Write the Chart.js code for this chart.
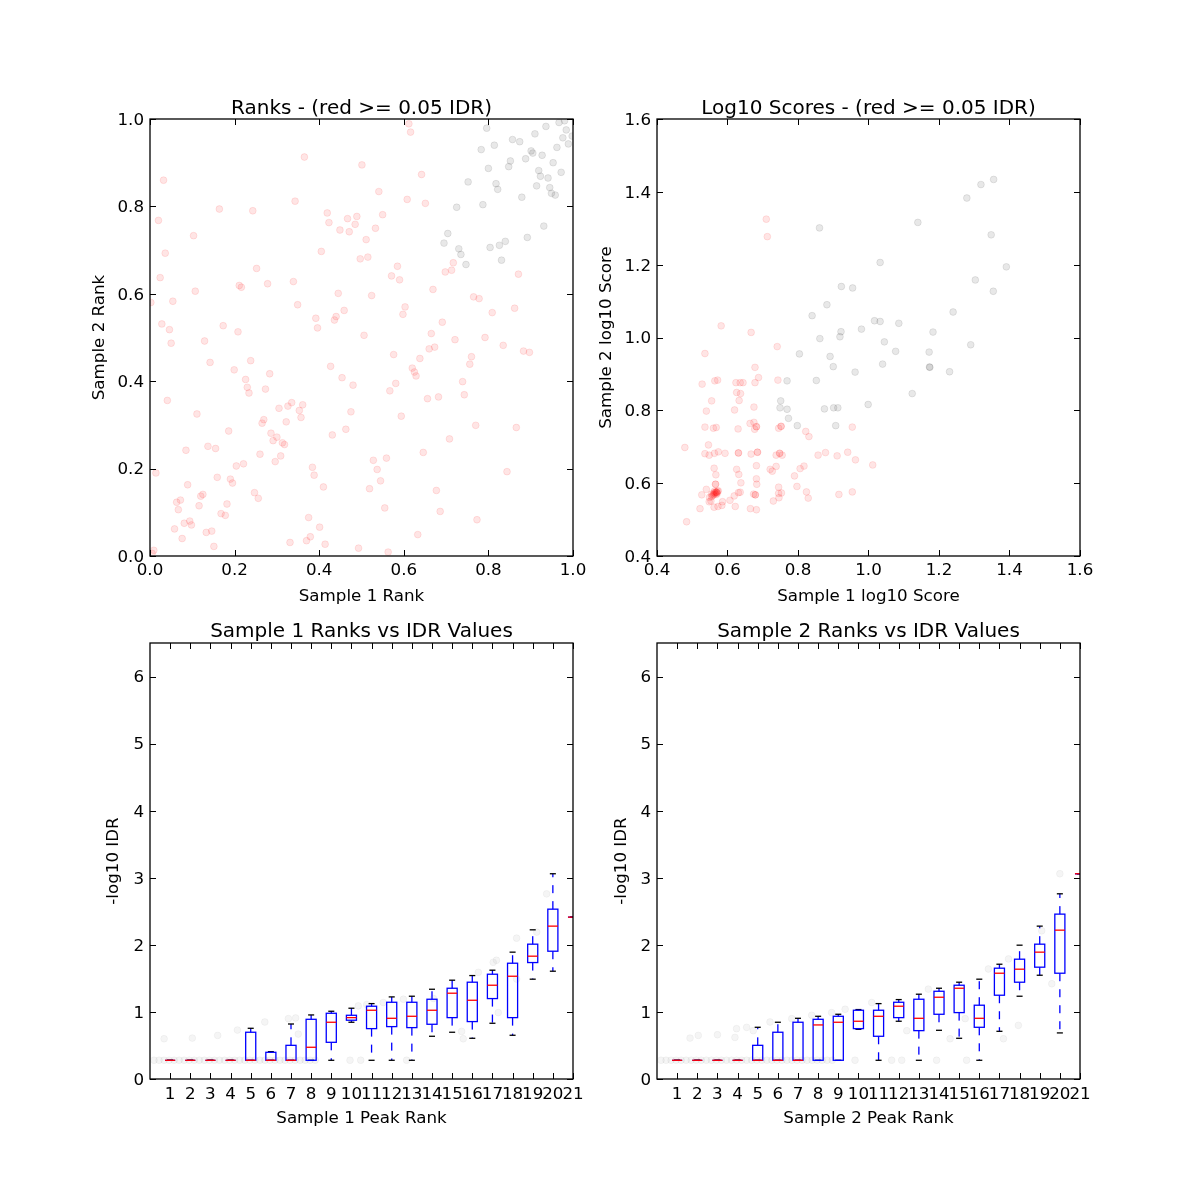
<!DOCTYPE html>
<html><head><meta charset="utf-8">
<script src="https://cdn.jsdelivr.net/npm/chart.js@4"></script>
<style>
body{margin:0;background:#fff;width:1200px;height:1200px;position:relative;overflow:hidden}
canvas{position:absolute}
</style></head><body>
<canvas id="c1" width="600" height="620" style="left:0;top:0"></canvas>
<canvas id="c2" width="650" height="620" style="left:550px;top:0"></canvas>
<canvas id="c3" width="600" height="600" style="left:0;top:600px"></canvas>
<canvas id="c4" width="650" height="600" style="left:550px;top:600px"></canvas>
<script>
// ---------------- DATA ----------------
const rankRed = [[0.612,0.989],[0.616,0.970],[0.365,0.913],[0.501,0.895],[0.032,0.860],[0.642,0.873],[0.541,0.834],[0.608,0.816],[0.651,0.807],[0.343,0.812],[0.164,0.794],[0.243,0.790],[0.419,0.785],[0.467,0.772],[0.489,0.777],[0.485,0.759],[0.423,0.763],[0.550,0.781],[0.449,0.746],[0.471,0.742],[0.533,0.750],[0.511,0.724],[0.020,0.768],[0.103,0.733],[0.036,0.693],[0.405,0.697],[0.497,0.680],[0.515,0.684],[0.252,0.658],[0.024,0.637],[0.571,0.641],[0.585,0.663],[0.590,0.632],[0.211,0.619],[0.216,0.615],[0.278,0.623],[0.339,0.628],[0.107,0.606],[0.445,0.601],[0.524,0.596],[0.669,0.610],[0.002,0.580],[0.054,0.583],[0.349,0.575],[0.603,0.570],[0.598,0.553],[0.459,0.562],[0.392,0.544],[0.440,0.548],[0.436,0.540],[0.396,0.522],[0.028,0.531],[0.046,0.518],[0.173,0.527],[0.208,0.513],[0.506,0.505],[0.050,0.487],[0.129,0.492],[0.691,0.535],[0.665,0.509],[0.721,0.495],[0.660,0.474],[0.673,0.478],[0.576,0.461],[0.142,0.443],[0.238,0.447],[0.199,0.426],[0.427,0.434],[0.638,0.452],[0.620,0.430],[0.625,0.421],[0.629,0.412],[0.760,0.456],[0.756,0.439],[0.283,0.417],[0.226,0.404],[0.230,0.386],[0.234,0.373],[0.273,0.382],[0.454,0.408],[0.480,0.391],[0.581,0.395],[0.567,0.378],[0.739,0.399],[0.743,0.369],[0.656,0.360],[0.682,0.364],[0.041,0.356],[0.111,0.325],[0.305,0.338],[0.326,0.343],[0.335,0.351],[0.353,0.333],[0.361,0.346],[0.357,0.317],[0.269,0.312],[0.265,0.304],[0.322,0.307],[0.475,0.330],[0.594,0.320],[0.186,0.286],[0.286,0.281],[0.291,0.264],[0.300,0.272],[0.313,0.259],[0.318,0.255],[0.431,0.277],[0.463,0.290],[0.770,0.299],[0.708,0.268],[0.866,0.294],[0.085,0.242],[0.137,0.251],[0.155,0.246],[0.260,0.233],[0.309,0.229],[0.296,0.216],[0.204,0.206],[0.221,0.211],[0.384,0.203],[0.388,0.185],[0.410,0.158],[0.528,0.219],[0.537,0.198],[0.559,0.224],[0.545,0.172],[0.519,0.154],[0.646,0.237],[0.844,0.193],[0.014,0.190],[0.089,0.163],[0.159,0.180],[0.190,0.176],[0.195,0.167],[0.247,0.145],[0.256,0.132],[0.116,0.115],[0.120,0.137],[0.125,0.141],[0.182,0.119],[0.063,0.123],[0.072,0.128],[0.067,0.106],[0.168,0.097],[0.178,0.093],[0.677,0.150],[0.686,0.102],[0.555,0.110],[0.773,0.083],[0.375,0.088],[0.401,0.066],[0.379,0.044],[0.370,0.035],[0.414,0.027],[0.331,0.031],[0.493,0.018],[0.563,0.009],[0.633,0.049],[0.081,0.075],[0.094,0.080],[0.098,0.071],[0.058,0.062],[0.133,0.054],[0.146,0.057],[0.076,0.040],[0.151,0.022],[0.009,0.013],[0.005,0.006],[0.698,0.650],[0.713,0.654],[0.717,0.671],[0.765,0.593],[0.778,0.589],[0.809,0.557],[0.862,0.567],[0.871,0.645],[0.792,0.500],[0.835,0.482],[0.883,0.469],[0.897,0.466]];
const rankGray = [[0.796,0.979],[0.814,0.940],[0.783,0.930],[0.857,0.953],[0.874,0.948],[0.910,0.966],[0.936,0.983],[0.967,0.992],[0.980,0.996],[0.984,0.975],[0.976,0.957],[0.989,0.943],[0.998,0.961],[0.962,0.935],[0.901,0.927],[0.905,0.922],[0.927,0.917],[0.888,0.909],[0.852,0.904],[0.848,0.891],[0.800,0.887],[0.919,0.882],[0.923,0.869],[0.941,0.865],[0.953,0.900],[0.972,0.878],[0.752,0.856],[0.818,0.852],[0.822,0.839],[0.914,0.847],[0.945,0.843],[0.949,0.830],[0.958,0.826],[0.879,0.821],[0.725,0.798],[0.787,0.804],[0.931,0.755],[0.892,0.729],[0.704,0.738],[0.695,0.716],[0.730,0.703],[0.735,0.690],[0.747,0.667],[0.804,0.706],[0.826,0.711],[0.840,0.720],[0.831,0.677]];
const scoreRed = [[0.710,1.325],[0.713,1.277],[0.582,1.032],[0.667,1.014],[0.536,0.956],[0.741,0.975],[0.678,0.918],[0.688,0.890],[0.528,0.872],[0.564,0.881],[0.572,0.883],[0.624,0.876],[0.636,0.876],[0.644,0.876],[0.678,0.876],[0.743,0.883],[0.626,0.849],[0.637,0.846],[0.555,0.826],[0.633,0.827],[0.540,0.798],[0.620,0.801],[0.675,0.809],[0.536,0.754],[0.560,0.751],[0.568,0.753],[0.630,0.749],[0.664,0.764],[0.675,0.767],[0.682,0.755],[0.677,0.748],[0.682,0.755],[0.745,0.751],[0.752,0.756],[0.752,0.756],[0.822,0.742],[0.831,0.728],[0.954,0.754],[0.479,0.698],[0.546,0.705],[0.536,0.681],[0.548,0.677],[0.563,0.682],[0.574,0.686],[0.593,0.682],[0.631,0.683],[0.631,0.683],[0.667,0.680],[0.685,0.685],[0.685,0.685],[0.738,0.677],[0.748,0.682],[0.748,0.682],[0.755,0.677],[0.857,0.677],[0.878,0.684],[0.911,0.675],[0.941,0.685],[0.963,0.664],[1.012,0.650],[0.562,0.641],[0.567,0.623],[0.626,0.638],[0.632,0.624],[0.682,0.648],[0.721,0.638],[0.727,0.633],[0.738,0.646],[0.806,0.640],[0.817,0.647],[0.790,0.620],[0.638,0.601],[0.682,0.612],[0.683,0.597],[0.566,0.597],[0.566,0.597],[0.540,0.583],[0.797,0.591],[0.745,0.589],[0.527,0.568],[0.549,0.561],[0.555,0.570],[0.562,0.574],[0.568,0.576],[0.572,0.578],[0.553,0.551],[0.548,0.549],[0.586,0.549],[0.607,0.553],[0.619,0.565],[0.631,0.574],[0.636,0.575],[0.674,0.570],[0.679,0.568],[0.679,0.568],[0.745,0.572],[0.753,0.573],[0.746,0.560],[0.730,0.551],[0.824,0.576],[0.829,0.559],[0.916,0.569],[0.954,0.576],[0.522,0.530],[0.562,0.534],[0.573,0.536],[0.584,0.539],[0.622,0.536],[0.665,0.530],[0.682,0.527],[0.484,0.494],[0.560,0.570],[0.565,0.572],[0.570,0.575],[0.558,0.566],[0.563,0.578],[0.568,0.569],[0.574,0.579],[0.555,0.563],[0.566,0.575],[0.571,0.572],[0.562,0.568],[0.569,0.574]];
const scoreGray = [[1.355,1.434],[1.319,1.420],[1.279,1.383],[1.140,1.316],[1.348,1.282],[0.861,1.301],[1.033,1.206],[1.391,1.194],[1.303,1.158],[1.354,1.127],[0.923,1.140],[0.955,1.136],[0.882,1.090],[1.240,1.070],[0.840,1.060],[1.017,1.046],[1.033,1.044],[1.086,1.039],[0.980,1.023],[0.922,1.016],[0.919,1.002],[1.183,1.015],[0.862,0.997],[1.045,0.988],[1.290,0.980],[0.804,0.955],[0.891,0.948],[1.077,0.962],[1.172,0.960],[1.040,0.927],[0.900,0.920],[1.173,0.919],[1.174,0.918],[1.230,0.906],[0.962,0.905],[0.769,0.881],[0.852,0.882],[1.124,0.846],[0.751,0.826],[0.749,0.807],[0.769,0.803],[0.875,0.804],[0.901,0.807],[0.913,0.807],[0.999,0.816],[0.773,0.778],[0.798,0.758],[0.907,0.758]];

const peakRanks = [1,2,3,4,5,6,7,8,9,10,11,12,13,14,15,16,17,18,19,20,21];
const s1Lo  = [0.279,0.279,0.279,0.279,0.279,0.279,0.279,0.279,0.279,0.846,0.279,0.279,0.279,0.637,0.697,0.607,0.831,0.652,1.488,1.607,2.413];
const s1Q1  = [0.279,0.279,0.279,0.279,0.279,0.279,0.279,0.279,0.547,0.876,0.751,0.781,0.766,0.816,0.915,0.856,1.199,0.915,1.736,1.905,2.413];
const s1Med = [0.279,0.279,0.279,0.279,0.279,0.279,0.279,0.473,0.846,0.915,1.025,0.905,0.935,1.025,1.279,1.174,1.398,1.532,1.831,2.279,2.413];
const s1Q3  = [0.279,0.279,0.279,0.279,0.697,0.398,0.502,0.890,0.980,0.950,1.085,1.144,1.144,1.189,1.353,1.443,1.562,1.726,2.010,2.532,2.413];
const s1Hi  = [0.279,0.279,0.279,0.279,0.756,0.408,0.820,0.955,1.010,1.055,1.124,1.224,1.234,1.338,1.473,1.542,1.622,1.891,2.224,3.060,2.413];
const s2Lo  = [0.279,0.279,0.279,0.279,0.279,0.279,0.279,0.279,0.279,0.741,0.279,0.861,0.279,0.726,0.607,0.279,0.711,1.234,1.547,0.687,3.060];
const s2Q1  = [0.279,0.279,0.279,0.279,0.279,0.279,0.279,0.279,0.279,0.751,0.637,0.915,0.721,0.965,0.990,0.771,1.249,1.443,1.667,1.577,3.060];
const s2Med = [0.279,0.279,0.279,0.279,0.279,0.279,0.279,0.806,0.846,0.861,0.935,1.085,0.905,1.219,1.353,0.905,1.577,1.637,1.891,2.219,3.060];
const s2Q3  = [0.279,0.279,0.279,0.279,0.502,0.697,0.846,0.890,0.935,1.025,1.025,1.144,1.189,1.308,1.398,1.100,1.652,1.786,2.010,2.458,3.060];
const s2Hi  = [0.279,0.279,0.279,0.279,0.771,0.846,0.905,0.935,0.965,1.035,1.124,1.184,1.264,1.353,1.443,1.488,1.711,1.995,2.279,2.761,3.060];

const s1Faint = [[0.2,0.28],[0.45,0.28],[0.7,0.28],[0.95,0.28],[1.2,0.28],[1.45,0.28],[1.7,0.28],[1.95,0.28],[2.2,0.28],[2.45,0.28],[2.7,0.28],[2.95,0.28],[3.2,0.28],[3.45,0.28],[3.7,0.28],[3.95,0.28],[4.2,0.28],[4.45,0.28],[4.7,0.28],[4.95,0.28],[5.2,0.28],[5.45,0.28],[5.7,0.28],[5.95,0.28],[6.2,0.28],[6.45,0.28],[6.7,0.28],[6.95,0.28],[7.2,0.28],[7.45,0.28],[7.7,0.28],[7.95,0.28],[8.2,0.28],[0.7,0.60],[2.1,0.61],[3.36,0.65],[4.34,0.73],[5.7,0.85],[6.87,0.90],[7.23,0.91],[7.36,0.67],[9.93,0.28],[10.46,0.28],[12.74,0.28],[10.34,1.09],[10.76,1.11],[11.58,1.14],[12.58,1.19],[14.07,1.20],[15.55,0.60],[15.47,0.71],[16.3,1.59],[17.29,0.99],[17.04,1.74],[18.2,2.10],[19.69,2.76],[19.2,2.19],[17.2,1.77],[18.2,1.49]];
const s2Faint = [[0.2,0.28],[0.45,0.28],[0.7,0.28],[0.95,0.28],[1.2,0.28],[1.45,0.28],[1.7,0.28],[1.95,0.28],[2.2,0.28],[2.45,0.28],[2.7,0.28],[2.95,0.28],[3.2,0.28],[3.45,0.28],[3.7,0.28],[3.95,0.28],[4.2,0.28],[4.45,0.28],[4.7,0.28],[4.95,0.28],[5.2,0.28],[5.45,0.28],[5.7,0.28],[5.95,0.28],[6.2,0.28],[6.45,0.28],[6.7,0.28],[6.95,0.28],[7.2,0.28],[7.45,0.28],[7.7,0.28],[7.95,0.28],[8.2,0.28],[8.45,0.28],[8.7,0.28],[1.64,0.61],[2.05,0.65],[3.0,0.66],[3.87,0.62],[3.95,0.75],[4.45,0.77],[4.78,0.72],[5.61,0.85],[6.69,0.90],[7.68,0.95],[8.67,0.99],[9.83,0.28],[11.65,0.28],[12.15,0.28],[13.88,0.28],[15.37,0.28],[9.34,1.04],[10.66,1.14],[12.4,0.72],[13.47,1.34],[14.55,0.60],[15.3,0.90],[16.45,1.64],[17.2,0.60],[17.45,1.79],[17.94,0.80],[19.6,1.42],[20.0,3.06],[19.1,2.21]];

const rankTicks = [0,0.2,0.4,0.6,0.8,1.0];
const rankTickLabels = ['0.0','0.2','0.4','0.6','0.8','1.0'];
const scoreTicks = [0.4,0.6,0.8,1.0,1.2,1.4,1.6];
const scoreTickLabels = ['0.4','0.6','0.8','1.0','1.2','1.4','1.6'];
const idrTicks = [0,1,2,3,4,5,6];
const idrTickLabels = ['0','1','2','3','4','5','6'];
const peakTickLabels = ['1','2','3','4','5','6','7','8','9','10','11','12','13','14','15','16','17','18','19','20','21'];

// ---------------- HELPERS ----------------
Chart.defaults.font.family = "'DejaVu Sans', sans-serif";
Chart.defaults.font.size = 16.7;
Chart.defaults.color = '#000';

const pts = a => a.map(p => ({x: p[0], y: p[1]}));

const framePlugin = {
  id: 'frame',
  afterDraw(chart) {
    const {ctx, chartArea: a, scales: {x, y}} = chart;
    ctx.save();
    ctx.strokeStyle = '#000';
    ctx.lineWidth = 1;
    const L = 6;
    ctx.beginPath();
    x.ticks.forEach(t => {
      const px = Math.round(x.getPixelForValue(t.value)) + 0.5;
      ctx.moveTo(px, a.bottom); ctx.lineTo(px, a.bottom - L);
      ctx.moveTo(px, a.top); ctx.lineTo(px, a.top + L);
    });
    y.ticks.forEach(t => {
      const py = Math.round(y.getPixelForValue(t.value)) + 0.5;
      ctx.moveTo(a.left, py); ctx.lineTo(a.left + L, py);
      ctx.moveTo(a.right, py); ctx.lineTo(a.right - L, py);
    });
    ctx.stroke();
    ctx.lineWidth = 1.3;
    ctx.strokeRect(a.left, a.top, a.right - a.left, a.bottom - a.top);
    ctx.restore();
  }
};

function boxPlugin(pos, lo, q1, med, q3, hi) {
  return {
    id: 'boxes',
    afterDatasetsDraw(chart) {
      const {ctx, chartArea: a, scales: {x, y}} = chart;
      ctx.save();
      ctx.beginPath();
      ctx.rect(a.left, a.top, a.right - a.left, a.bottom - a.top);
      ctx.clip();
      const line = (x1, y1, x2, y2) => { ctx.beginPath(); ctx.moveTo(x1, y1); ctx.lineTo(x2, y2); ctx.stroke(); };
      pos.forEach((p, i) => {
        const xc = x.getPixelForValue(p);
        const xl = x.getPixelForValue(p - 0.25), xr = x.getPixelForValue(p + 0.25);
        const cl = x.getPixelForValue(p - 0.15), cr = x.getPixelForValue(p + 0.15);
        const yLo = y.getPixelForValue(lo[i]), yQ1 = y.getPixelForValue(q1[i]);
        const yMed = y.getPixelForValue(med[i]), yQ3 = y.getPixelForValue(q3[i]);
        const yHi = y.getPixelForValue(hi[i]);
        ctx.lineWidth = 1.3;
        ctx.strokeStyle = '#0000ff';
        ctx.setLineDash([8, 8]);
        if (yHi < yQ3) line(xc, yQ3, xc, yHi);
        if (yLo > yQ1) line(xc, yQ1, xc, yLo);
        ctx.setLineDash([]);
        ctx.strokeStyle = '#000';
        line(cl, yHi, cr, yHi);
        line(cl, yLo, cr, yLo);
        ctx.strokeStyle = '#0000ff';
        ctx.strokeRect(xl, yQ3, xr - xl, yQ1 - yQ3);
        ctx.strokeStyle = '#ff0000';
        line(xl, yMed, xr, yMed);
      });
      ctx.restore();
    }
  };
}

function axis(ticks, labels, opts) {
  return Object.assign({
    type: 'linear',
    min: ticks[0], max: ticks[ticks.length - 1],
    grid: {display: false, drawTicks: false},
    border: {display: false},
    afterBuildTicks: s => { s.ticks = ticks.map(v => ({value: v})); },
  }, opts);
}

function makeChart(id, cfg) {
  const {datasets, title, xs, ys, padding, plugins} = cfg;
  return new Chart(document.getElementById(id), {
    type: 'scatter',
    data: {datasets},
    options: {
      responsive: false, animation: false, events: [],
      layout: {padding},
      plugins: {
        legend: {display: false}, tooltip: {enabled: false},
        title: {display: true, text: title, fullSize: false, font: {size: 20, weight: 'normal', lineHeight: 1.0}, padding: cfg.titlePad || 0, color: '#000'}
      },
      scales: {x: xs, y: ys}
    },
    plugins: plugins
  });
}

const scat = (data, color) => ({data: pts(data), pointRadius: 3.4, borderWidth: 1, backgroundColor: color, borderColor: color, clip: 0, pointHoverRadius: 3.4});

// ---------- Top-left ----------
makeChart('c1', {
  datasets: [scat(rankRed, 'rgba(255,0,0,0.1)'), scat(rankGray, 'rgba(0,0,0,0.09)')],
  title: 'Ranks - (red >= 0.05 IDR)',
  padding: {left: 90, top: 99, right: 27, bottom: 13},
  xs: axis(rankTicks, rankTickLabels, {title: {display: true, text: 'Sample 1 Rank', padding: 0}, afterFit: s => { s.height = 51; }, ticks: {autoSkip: false, maxRotation: 0, padding: 5, callback: (v, i) => rankTickLabels[i]}}),
  ys: axis(rankTicks, rankTickLabels, {title: {display: true, text: 'Sample 2 Rank', padding: 0}, afterFit: s => { s.width = 60; }, ticks: {autoSkip: false, padding: 6, labelOffset: 1.5, callback: (v, i) => rankTickLabels[i]}}),
  plugins: [framePlugin]
});

// ---------- Top-right ----------
makeChart('c2', {
  datasets: [scat(scoreRed, 'rgba(255,0,0,0.1)'), scat(scoreGray, 'rgba(0,0,0,0.09)')],
  title: 'Log10 Scores - (red >= 0.05 IDR)',
  padding: {left: 47, top: 99, right: 120, bottom: 13},
  xs: axis(scoreTicks, scoreTickLabels, {title: {display: true, text: 'Sample 1 log10 Score', padding: 0}, afterFit: s => { s.height = 51; }, ticks: {autoSkip: false, maxRotation: 0, padding: 5, callback: (v, i) => scoreTickLabels[i]}}),
  ys: axis(scoreTicks, scoreTickLabels, {title: {display: true, text: 'Sample 2 log10 Score', padding: 0}, afterFit: s => { s.width = 60; }, ticks: {autoSkip: false, padding: 6, labelOffset: 1.5, callback: (v, i) => scoreTickLabels[i]}}),
  plugins: [framePlugin]
});

// ---------- Bottom plots ----------
function peakX(label) {
  return {
    type: 'linear', min: 0, max: 21,
    grid: {display: false, drawTicks: false}, border: {display: false},
    afterBuildTicks: s => { s.ticks = peakRanks.map(v => ({value: v})); },
    ticks: {autoSkip: false, maxRotation: 0, minRotation: 0, padding: 6, callback: (v, i) => peakTickLabels[i]},
    title: {display: true, text: label, padding: 0},
    afterFit: s => { s.height = 50; }
  };
}
function idrY(w) {
  return {
    type: 'linear', min: 0, max: 6.5,
    grid: {display: false, drawTicks: false}, border: {display: false},
    afterBuildTicks: s => { s.ticks = idrTicks.map(v => ({value: v})); },
    ticks: {autoSkip: false, padding: 6, labelOffset: 1.5, callback: (v, i) => idrTickLabels[i]},
    title: {display: true, text: '-log10 IDR', padding: 0},
    afterFit: s => { s.width = w; }
  };
}

makeChart('c3', {
  datasets: [scat(s1Faint, 'rgba(0,0,0,0.04)')],
  title: 'Sample 1 Ranks vs IDR Values',
  titlePad: {top: 0, bottom: 1},
  padding: {left: 104, top: 22, right: 27, bottom: 71},
  xs: peakX('Sample 1 Peak Rank'),
  ys: idrY(46),
  plugins: [boxPlugin(peakRanks, s1Lo, s1Q1, s1Med, s1Q3, s1Hi), framePlugin]
});

makeChart('c4', {
  datasets: [scat(s2Faint, 'rgba(0,0,0,0.04)')],
  title: 'Sample 2 Ranks vs IDR Values',
  titlePad: {top: 0, bottom: 1},
  padding: {left: 62, top: 22, right: 120, bottom: 71},
  xs: peakX('Sample 2 Peak Rank'),
  ys: idrY(45),
  plugins: [boxPlugin(peakRanks, s2Lo, s2Q1, s2Med, s2Q3, s2Hi), framePlugin]
});
</script>
</body></html>
